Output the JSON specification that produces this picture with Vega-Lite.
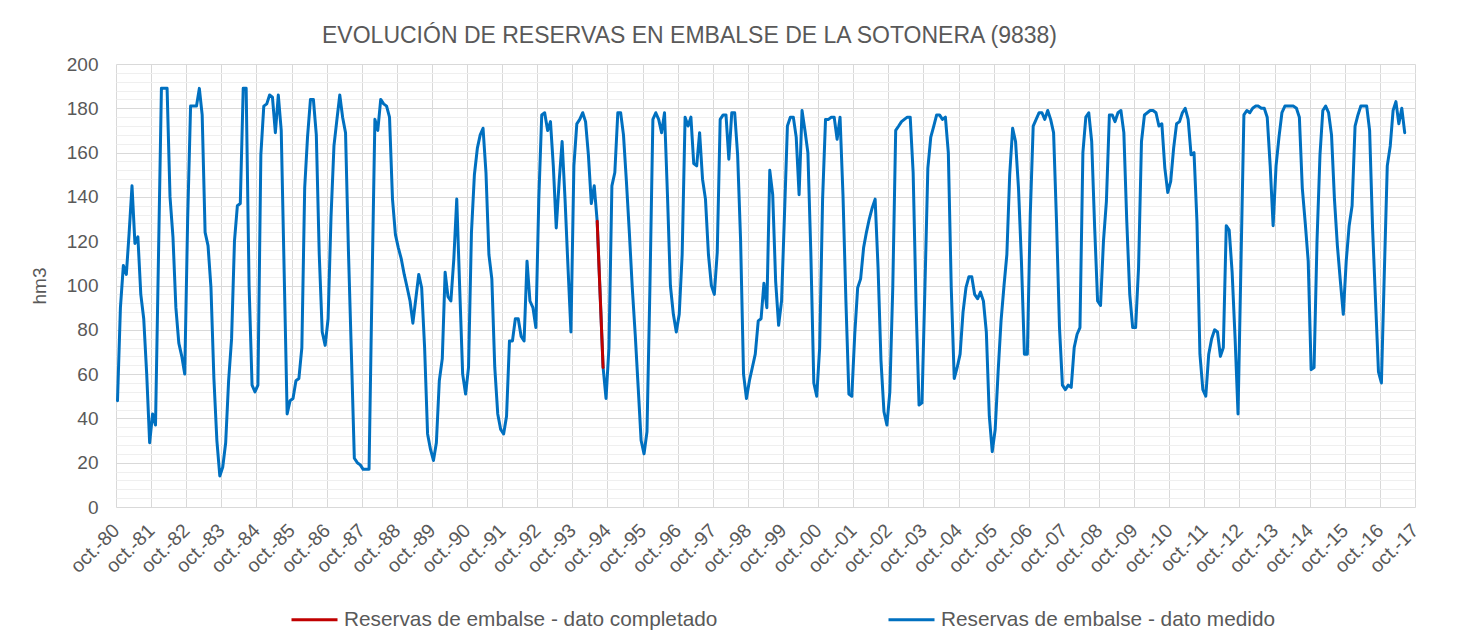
{
"$schema": "https://vega.github.io/schema/vega-lite/v6.json",
"width": 1299, "height": 443,
"autosize": {"type": "none"},
"padding": {"left": 116, "top": 64, "right": 45, "bottom": 134},
"background": "white",
"title": {"text": "EVOLUCIÓN DE RESERVAS EN EMBALSE DE LA SOTONERA (9838)", "fontSize": 23, "font": "Liberation Sans", "fontWeight": "normal", "color": "#595959", "anchor": "middle", "dx": -76, "offset": 7},
"data": {"values": [
{"fecha":"1980-10","hm3":48,"serie":"medido"},{"fecha":"1980-11","hm3":90,"serie":"medido"},{"fecha":"1980-12","hm3":109,"serie":"medido"},
{"fecha":"1981-01","hm3":105,"serie":"medido"},{"fecha":"1981-02","hm3":124,"serie":"medido"},{"fecha":"1981-03","hm3":145,"serie":"medido"},{"fecha":"1981-04","hm3":119,"serie":"medido"},{"fecha":"1981-05","hm3":122,"serie":"medido"},{"fecha":"1981-06","hm3":96,"serie":"medido"},{"fecha":"1981-07","hm3":85,"serie":"medido"},{"fecha":"1981-08","hm3":60,"serie":"medido"},{"fecha":"1981-09","hm3":29,"serie":"medido"},{"fecha":"1981-10","hm3":42,"serie":"medido"},{"fecha":"1981-11","hm3":37,"serie":"medido"},{"fecha":"1981-12","hm3":112,"serie":"medido"},
{"fecha":"1982-01","hm3":189,"serie":"medido"},{"fecha":"1982-02","hm3":189,"serie":"medido"},{"fecha":"1982-03","hm3":189,"serie":"medido"},{"fecha":"1982-04","hm3":140,"serie":"medido"},{"fecha":"1982-05","hm3":122,"serie":"medido"},{"fecha":"1982-06","hm3":90,"serie":"medido"},{"fecha":"1982-07","hm3":74,"serie":"medido"},{"fecha":"1982-08","hm3":68,"serie":"medido"},{"fecha":"1982-09","hm3":60,"serie":"medido"},{"fecha":"1982-10","hm3":130,"serie":"medido"},{"fecha":"1982-11","hm3":181,"serie":"medido"},{"fecha":"1982-12","hm3":181,"serie":"medido"},
{"fecha":"1983-01","hm3":181,"serie":"medido"},{"fecha":"1983-02","hm3":189,"serie":"medido"},{"fecha":"1983-03","hm3":177,"serie":"medido"},{"fecha":"1983-04","hm3":124,"serie":"medido"},{"fecha":"1983-05","hm3":118,"serie":"medido"},{"fecha":"1983-06","hm3":99,"serie":"medido"},{"fecha":"1983-07","hm3":58,"serie":"medido"},{"fecha":"1983-08","hm3":30,"serie":"medido"},{"fecha":"1983-09","hm3":14,"serie":"medido"},{"fecha":"1983-10","hm3":18,"serie":"medido"},{"fecha":"1983-11","hm3":29,"serie":"medido"},{"fecha":"1983-12","hm3":57,"serie":"medido"},
{"fecha":"1984-01","hm3":76,"serie":"medido"},{"fecha":"1984-02","hm3":120,"serie":"medido"},{"fecha":"1984-03","hm3":136,"serie":"medido"},{"fecha":"1984-04","hm3":137,"serie":"medido"},{"fecha":"1984-05","hm3":189,"serie":"medido"},{"fecha":"1984-06","hm3":189,"serie":"medido"},{"fecha":"1984-07","hm3":100,"serie":"medido"},{"fecha":"1984-08","hm3":55,"serie":"medido"},{"fecha":"1984-09","hm3":52,"serie":"medido"},{"fecha":"1984-10","hm3":55,"serie":"medido"},{"fecha":"1984-11","hm3":159,"serie":"medido"},{"fecha":"1984-12","hm3":181,"serie":"medido"},
{"fecha":"1985-01","hm3":182,"serie":"medido"},{"fecha":"1985-02","hm3":186,"serie":"medido"},{"fecha":"1985-03","hm3":185,"serie":"medido"},{"fecha":"1985-04","hm3":169,"serie":"medido"},{"fecha":"1985-05","hm3":186,"serie":"medido"},{"fecha":"1985-06","hm3":170,"serie":"medido"},{"fecha":"1985-07","hm3":106,"serie":"medido"},{"fecha":"1985-08","hm3":42,"serie":"medido"},{"fecha":"1985-09","hm3":48,"serie":"medido"},{"fecha":"1985-10","hm3":49,"serie":"medido"},{"fecha":"1985-11","hm3":57,"serie":"medido"},{"fecha":"1985-12","hm3":58,"serie":"medido"},
{"fecha":"1986-01","hm3":72,"serie":"medido"},{"fecha":"1986-02","hm3":144,"serie":"medido"},{"fecha":"1986-03","hm3":167,"serie":"medido"},{"fecha":"1986-04","hm3":184,"serie":"medido"},{"fecha":"1986-05","hm3":184,"serie":"medido"},{"fecha":"1986-06","hm3":168,"serie":"medido"},{"fecha":"1986-07","hm3":114,"serie":"medido"},{"fecha":"1986-08","hm3":79,"serie":"medido"},{"fecha":"1986-09","hm3":73,"serie":"medido"},{"fecha":"1986-10","hm3":85,"serie":"medido"},{"fecha":"1986-11","hm3":131,"serie":"medido"},{"fecha":"1986-12","hm3":163,"serie":"medido"},
{"fecha":"1987-01","hm3":175,"serie":"medido"},{"fecha":"1987-02","hm3":186,"serie":"medido"},{"fecha":"1987-03","hm3":176,"serie":"medido"},{"fecha":"1987-04","hm3":169,"serie":"medido"},{"fecha":"1987-05","hm3":115,"serie":"medido"},{"fecha":"1987-06","hm3":69,"serie":"medido"},{"fecha":"1987-07","hm3":22,"serie":"medido"},{"fecha":"1987-08","hm3":20,"serie":"medido"},{"fecha":"1987-09","hm3":19,"serie":"medido"},{"fecha":"1987-10","hm3":17,"serie":"medido"},{"fecha":"1987-11","hm3":17,"serie":"medido"},{"fecha":"1987-12","hm3":17,"serie":"medido"},
{"fecha":"1988-01","hm3":100,"serie":"medido"},{"fecha":"1988-02","hm3":175,"serie":"medido"},{"fecha":"1988-03","hm3":170,"serie":"medido"},{"fecha":"1988-04","hm3":184,"serie":"medido"},{"fecha":"1988-05","hm3":182,"serie":"medido"},{"fecha":"1988-06","hm3":181,"serie":"medido"},{"fecha":"1988-07","hm3":176,"serie":"medido"},{"fecha":"1988-08","hm3":139,"serie":"medido"},{"fecha":"1988-09","hm3":123,"serie":"medido"},{"fecha":"1988-10","hm3":117,"serie":"medido"},{"fecha":"1988-11","hm3":112,"serie":"medido"},{"fecha":"1988-12","hm3":105,"serie":"medido"},
{"fecha":"1989-01","hm3":99,"serie":"medido"},{"fecha":"1989-02","hm3":93,"serie":"medido"},{"fecha":"1989-03","hm3":83,"serie":"medido"},{"fecha":"1989-04","hm3":94,"serie":"medido"},{"fecha":"1989-05","hm3":105,"serie":"medido"},{"fecha":"1989-06","hm3":99,"serie":"medido"},{"fecha":"1989-07","hm3":72,"serie":"medido"},{"fecha":"1989-08","hm3":33,"serie":"medido"},{"fecha":"1989-09","hm3":26,"serie":"medido"},{"fecha":"1989-10","hm3":21,"serie":"medido"},{"fecha":"1989-11","hm3":29,"serie":"medido"},{"fecha":"1989-12","hm3":57,"serie":"medido"},
{"fecha":"1990-01","hm3":67,"serie":"medido"},{"fecha":"1990-02","hm3":106,"serie":"medido"},{"fecha":"1990-03","hm3":95,"serie":"medido"},{"fecha":"1990-04","hm3":93,"serie":"medido"},{"fecha":"1990-05","hm3":112,"serie":"medido"},{"fecha":"1990-06","hm3":139,"serie":"medido"},{"fecha":"1990-07","hm3":99,"serie":"medido"},{"fecha":"1990-08","hm3":60,"serie":"medido"},{"fecha":"1990-09","hm3":51,"serie":"medido"},{"fecha":"1990-10","hm3":63,"serie":"medido"},{"fecha":"1990-11","hm3":124,"serie":"medido"},{"fecha":"1990-12","hm3":150,"serie":"medido"},
{"fecha":"1991-01","hm3":162,"serie":"medido"},{"fecha":"1991-02","hm3":168,"serie":"medido"},{"fecha":"1991-03","hm3":171,"serie":"medido"},{"fecha":"1991-04","hm3":151,"serie":"medido"},{"fecha":"1991-05","hm3":114,"serie":"medido"},{"fecha":"1991-06","hm3":103,"serie":"medido"},{"fecha":"1991-07","hm3":63,"serie":"medido"},{"fecha":"1991-08","hm3":42,"serie":"medido"},{"fecha":"1991-09","hm3":35,"serie":"medido"},{"fecha":"1991-10","hm3":33,"serie":"medido"},{"fecha":"1991-11","hm3":41,"serie":"medido"},{"fecha":"1991-12","hm3":75,"serie":"medido"},
{"fecha":"1992-01","hm3":75,"serie":"medido"},{"fecha":"1992-02","hm3":85,"serie":"medido"},{"fecha":"1992-03","hm3":85,"serie":"medido"},{"fecha":"1992-04","hm3":77,"serie":"medido"},{"fecha":"1992-05","hm3":75,"serie":"medido"},{"fecha":"1992-06","hm3":111,"serie":"medido"},{"fecha":"1992-07","hm3":93,"serie":"medido"},{"fecha":"1992-08","hm3":90,"serie":"medido"},{"fecha":"1992-09","hm3":81,"serie":"medido"},{"fecha":"1992-10","hm3":139,"serie":"medido"},{"fecha":"1992-11","hm3":177,"serie":"medido"},{"fecha":"1992-12","hm3":178,"serie":"medido"},
{"fecha":"1993-01","hm3":170,"serie":"medido"},{"fecha":"1993-02","hm3":174,"serie":"medido"},{"fecha":"1993-03","hm3":154,"serie":"medido"},{"fecha":"1993-04","hm3":126,"serie":"medido"},{"fecha":"1993-05","hm3":147,"serie":"medido"},{"fecha":"1993-06","hm3":165,"serie":"medido"},{"fecha":"1993-07","hm3":139,"serie":"medido"},{"fecha":"1993-08","hm3":108,"serie":"medido"},{"fecha":"1993-09","hm3":79,"serie":"medido"},{"fecha":"1993-10","hm3":154,"serie":"medido"},{"fecha":"1993-11","hm3":173,"serie":"medido"},{"fecha":"1993-12","hm3":175,"serie":"medido"},
{"fecha":"1994-01","hm3":178,"serie":"medido"},{"fecha":"1994-02","hm3":174,"serie":"medido"},{"fecha":"1994-03","hm3":159,"serie":"medido"},{"fecha":"1994-04","hm3":137,"serie":"medido"},{"fecha":"1994-05","hm3":145,"serie":"medido"},{"fecha":"1994-06","hm3":129,"serie":"medido"},{"fecha":"1994-08","hm3":63,"serie":"medido"},{"fecha":"1994-09","hm3":49,"serie":"medido"},{"fecha":"1994-10","hm3":72,"serie":"medido"},{"fecha":"1994-11","hm3":145,"serie":"medido"},{"fecha":"1994-12","hm3":151,"serie":"medido"},
{"fecha":"1995-01","hm3":178,"serie":"medido"},{"fecha":"1995-02","hm3":178,"serie":"medido"},{"fecha":"1995-03","hm3":168,"serie":"medido"},{"fecha":"1995-04","hm3":147,"serie":"medido"},{"fecha":"1995-05","hm3":124,"serie":"medido"},{"fecha":"1995-06","hm3":99,"serie":"medido"},{"fecha":"1995-07","hm3":78,"serie":"medido"},{"fecha":"1995-08","hm3":54,"serie":"medido"},{"fecha":"1995-09","hm3":30,"serie":"medido"},{"fecha":"1995-10","hm3":24,"serie":"medido"},{"fecha":"1995-11","hm3":34,"serie":"medido"},{"fecha":"1995-12","hm3":99,"serie":"medido"},
{"fecha":"1996-01","hm3":175,"serie":"medido"},{"fecha":"1996-02","hm3":178,"serie":"medido"},{"fecha":"1996-03","hm3":175,"serie":"medido"},{"fecha":"1996-04","hm3":169,"serie":"medido"},{"fecha":"1996-05","hm3":178,"serie":"medido"},{"fecha":"1996-06","hm3":141,"serie":"medido"},{"fecha":"1996-07","hm3":100,"serie":"medido"},{"fecha":"1996-08","hm3":87,"serie":"medido"},{"fecha":"1996-09","hm3":79,"serie":"medido"},{"fecha":"1996-10","hm3":87,"serie":"medido"},{"fecha":"1996-11","hm3":114,"serie":"medido"},{"fecha":"1996-12","hm3":176,"serie":"medido"},
{"fecha":"1997-01","hm3":172,"serie":"medido"},{"fecha":"1997-02","hm3":176,"serie":"medido"},{"fecha":"1997-03","hm3":155,"serie":"medido"},{"fecha":"1997-04","hm3":154,"serie":"medido"},{"fecha":"1997-05","hm3":169,"serie":"medido"},{"fecha":"1997-06","hm3":148,"serie":"medido"},{"fecha":"1997-07","hm3":139,"serie":"medido"},{"fecha":"1997-08","hm3":114,"serie":"medido"},{"fecha":"1997-09","hm3":100,"serie":"medido"},{"fecha":"1997-10","hm3":96,"serie":"medido"},{"fecha":"1997-11","hm3":115,"serie":"medido"},{"fecha":"1997-12","hm3":175,"serie":"medido"},
{"fecha":"1998-01","hm3":177,"serie":"medido"},{"fecha":"1998-02","hm3":177,"serie":"medido"},{"fecha":"1998-03","hm3":157,"serie":"medido"},{"fecha":"1998-04","hm3":178,"serie":"medido"},{"fecha":"1998-05","hm3":178,"serie":"medido"},{"fecha":"1998-06","hm3":159,"serie":"medido"},{"fecha":"1998-07","hm3":121,"serie":"medido"},{"fecha":"1998-08","hm3":60,"serie":"medido"},{"fecha":"1998-09","hm3":49,"serie":"medido"},{"fecha":"1998-10","hm3":57,"serie":"medido"},{"fecha":"1998-11","hm3":63,"serie":"medido"},{"fecha":"1998-12","hm3":69,"serie":"medido"},
{"fecha":"1999-01","hm3":84,"serie":"medido"},{"fecha":"1999-02","hm3":85,"serie":"medido"},{"fecha":"1999-03","hm3":101,"serie":"medido"},{"fecha":"1999-04","hm3":90,"serie":"medido"},{"fecha":"1999-05","hm3":152,"serie":"medido"},{"fecha":"1999-06","hm3":141,"serie":"medido"},{"fecha":"1999-07","hm3":102,"serie":"medido"},{"fecha":"1999-08","hm3":82,"serie":"medido"},{"fecha":"1999-09","hm3":93,"serie":"medido"},{"fecha":"1999-10","hm3":132,"serie":"medido"},{"fecha":"1999-11","hm3":172,"serie":"medido"},{"fecha":"1999-12","hm3":176,"serie":"medido"},
{"fecha":"2000-01","hm3":176,"serie":"medido"},{"fecha":"2000-02","hm3":167,"serie":"medido"},{"fecha":"2000-03","hm3":141,"serie":"medido"},{"fecha":"2000-04","hm3":179,"serie":"medido"},{"fecha":"2000-05","hm3":170,"serie":"medido"},{"fecha":"2000-06","hm3":160,"serie":"medido"},{"fecha":"2000-07","hm3":115,"serie":"medido"},{"fecha":"2000-08","hm3":56,"serie":"medido"},{"fecha":"2000-09","hm3":50,"serie":"medido"},{"fecha":"2000-10","hm3":72,"serie":"medido"},{"fecha":"2000-11","hm3":139,"serie":"medido"},{"fecha":"2000-12","hm3":175,"serie":"medido"},
{"fecha":"2001-01","hm3":175,"serie":"medido"},{"fecha":"2001-02","hm3":176,"serie":"medido"},{"fecha":"2001-03","hm3":176,"serie":"medido"},{"fecha":"2001-04","hm3":166,"serie":"medido"},{"fecha":"2001-05","hm3":176,"serie":"medido"},{"fecha":"2001-06","hm3":141,"serie":"medido"},{"fecha":"2001-07","hm3":93,"serie":"medido"},{"fecha":"2001-08","hm3":51,"serie":"medido"},{"fecha":"2001-09","hm3":50,"serie":"medido"},{"fecha":"2001-10","hm3":78,"serie":"medido"},{"fecha":"2001-11","hm3":99,"serie":"medido"},{"fecha":"2001-12","hm3":103,"serie":"medido"},
{"fecha":"2002-01","hm3":117,"serie":"medido"},{"fecha":"2002-02","hm3":124,"serie":"medido"},{"fecha":"2002-03","hm3":130,"serie":"medido"},{"fecha":"2002-04","hm3":135,"serie":"medido"},{"fecha":"2002-05","hm3":139,"serie":"medido"},{"fecha":"2002-06","hm3":108,"serie":"medido"},{"fecha":"2002-07","hm3":66,"serie":"medido"},{"fecha":"2002-08","hm3":43,"serie":"medido"},{"fecha":"2002-09","hm3":37,"serie":"medido"},{"fecha":"2002-10","hm3":52,"serie":"medido"},{"fecha":"2002-11","hm3":99,"serie":"medido"},{"fecha":"2002-12","hm3":170,"serie":"medido"},
{"fecha":"2003-01","hm3":172,"serie":"medido"},{"fecha":"2003-02","hm3":174,"serie":"medido"},{"fecha":"2003-03","hm3":175,"serie":"medido"},{"fecha":"2003-04","hm3":176,"serie":"medido"},{"fecha":"2003-05","hm3":176,"serie":"medido"},{"fecha":"2003-06","hm3":151,"serie":"medido"},{"fecha":"2003-07","hm3":91,"serie":"medido"},{"fecha":"2003-08","hm3":46,"serie":"medido"},{"fecha":"2003-09","hm3":47,"serie":"medido"},{"fecha":"2003-10","hm3":99,"serie":"medido"},{"fecha":"2003-11","hm3":153,"serie":"medido"},{"fecha":"2003-12","hm3":167,"serie":"medido"},
{"fecha":"2004-01","hm3":172,"serie":"medido"},{"fecha":"2004-02","hm3":177,"serie":"medido"},{"fecha":"2004-03","hm3":177,"serie":"medido"},{"fecha":"2004-04","hm3":175,"serie":"medido"},{"fecha":"2004-05","hm3":176,"serie":"medido"},{"fecha":"2004-06","hm3":160,"serie":"medido"},{"fecha":"2004-07","hm3":99,"serie":"medido"},{"fecha":"2004-08","hm3":58,"serie":"medido"},{"fecha":"2004-09","hm3":63,"serie":"medido"},{"fecha":"2004-10","hm3":69,"serie":"medido"},{"fecha":"2004-11","hm3":88,"serie":"medido"},{"fecha":"2004-12","hm3":99,"serie":"medido"},
{"fecha":"2005-01","hm3":104,"serie":"medido"},{"fecha":"2005-02","hm3":104,"serie":"medido"},{"fecha":"2005-03","hm3":96,"serie":"medido"},{"fecha":"2005-04","hm3":94,"serie":"medido"},{"fecha":"2005-05","hm3":97,"serie":"medido"},{"fecha":"2005-06","hm3":93,"serie":"medido"},{"fecha":"2005-07","hm3":79,"serie":"medido"},{"fecha":"2005-08","hm3":41,"serie":"medido"},{"fecha":"2005-09","hm3":25,"serie":"medido"},{"fecha":"2005-10","hm3":35,"serie":"medido"},{"fecha":"2005-11","hm3":61,"serie":"medido"},{"fecha":"2005-12","hm3":84,"serie":"medido"},
{"fecha":"2006-01","hm3":100,"serie":"medido"},{"fecha":"2006-02","hm3":114,"serie":"medido"},{"fecha":"2006-03","hm3":150,"serie":"medido"},{"fecha":"2006-04","hm3":171,"serie":"medido"},{"fecha":"2006-05","hm3":165,"serie":"medido"},{"fecha":"2006-06","hm3":144,"serie":"medido"},{"fecha":"2006-07","hm3":111,"serie":"medido"},{"fecha":"2006-08","hm3":69,"serie":"medido"},{"fecha":"2006-09","hm3":69,"serie":"medido"},{"fecha":"2006-10","hm3":132,"serie":"medido"},{"fecha":"2006-11","hm3":172,"serie":"medido"},{"fecha":"2006-12","hm3":175,"serie":"medido"},
{"fecha":"2007-01","hm3":178,"serie":"medido"},{"fecha":"2007-02","hm3":178,"serie":"medido"},{"fecha":"2007-03","hm3":175,"serie":"medido"},{"fecha":"2007-04","hm3":179,"serie":"medido"},{"fecha":"2007-05","hm3":175,"serie":"medido"},{"fecha":"2007-06","hm3":169,"serie":"medido"},{"fecha":"2007-07","hm3":129,"serie":"medido"},{"fecha":"2007-08","hm3":81,"serie":"medido"},{"fecha":"2007-09","hm3":55,"serie":"medido"},{"fecha":"2007-10","hm3":53,"serie":"medido"},{"fecha":"2007-11","hm3":55,"serie":"medido"},{"fecha":"2007-12","hm3":54,"serie":"medido"},
{"fecha":"2008-01","hm3":72,"serie":"medido"},{"fecha":"2008-02","hm3":78,"serie":"medido"},{"fecha":"2008-03","hm3":81,"serie":"medido"},{"fecha":"2008-04","hm3":160,"serie":"medido"},{"fecha":"2008-05","hm3":176,"serie":"medido"},{"fecha":"2008-06","hm3":178,"serie":"medido"},{"fecha":"2008-07","hm3":165,"serie":"medido"},{"fecha":"2008-08","hm3":126,"serie":"medido"},{"fecha":"2008-09","hm3":93,"serie":"medido"},{"fecha":"2008-10","hm3":91,"serie":"medido"},{"fecha":"2008-11","hm3":120,"serie":"medido"},{"fecha":"2008-12","hm3":138,"serie":"medido"},
{"fecha":"2009-01","hm3":177,"serie":"medido"},{"fecha":"2009-02","hm3":177,"serie":"medido"},{"fecha":"2009-03","hm3":174,"serie":"medido"},{"fecha":"2009-04","hm3":178,"serie":"medido"},{"fecha":"2009-05","hm3":179,"serie":"medido"},{"fecha":"2009-06","hm3":169,"serie":"medido"},{"fecha":"2009-07","hm3":129,"serie":"medido"},{"fecha":"2009-08","hm3":96,"serie":"medido"},{"fecha":"2009-09","hm3":81,"serie":"medido"},{"fecha":"2009-10","hm3":81,"serie":"medido"},{"fecha":"2009-11","hm3":108,"serie":"medido"},{"fecha":"2009-12","hm3":165,"serie":"medido"},
{"fecha":"2010-01","hm3":177,"serie":"medido"},{"fecha":"2010-02","hm3":178,"serie":"medido"},{"fecha":"2010-03","hm3":179,"serie":"medido"},{"fecha":"2010-04","hm3":179,"serie":"medido"},{"fecha":"2010-05","hm3":178,"serie":"medido"},{"fecha":"2010-06","hm3":172,"serie":"medido"},{"fecha":"2010-07","hm3":173,"serie":"medido"},{"fecha":"2010-08","hm3":153,"serie":"medido"},{"fecha":"2010-09","hm3":142,"serie":"medido"},{"fecha":"2010-10","hm3":147,"serie":"medido"},{"fecha":"2010-11","hm3":162,"serie":"medido"},{"fecha":"2010-12","hm3":173,"serie":"medido"},
{"fecha":"2011-01","hm3":174,"serie":"medido"},{"fecha":"2011-02","hm3":178,"serie":"medido"},{"fecha":"2011-03","hm3":180,"serie":"medido"},{"fecha":"2011-04","hm3":175,"serie":"medido"},{"fecha":"2011-05","hm3":159,"serie":"medido"},{"fecha":"2011-06","hm3":160,"serie":"medido"},{"fecha":"2011-07","hm3":129,"serie":"medido"},{"fecha":"2011-08","hm3":69,"serie":"medido"},{"fecha":"2011-09","hm3":53,"serie":"medido"},{"fecha":"2011-10","hm3":50,"serie":"medido"},{"fecha":"2011-11","hm3":69,"serie":"medido"},{"fecha":"2011-12","hm3":76,"serie":"medido"},
{"fecha":"2012-01","hm3":80,"serie":"medido"},{"fecha":"2012-02","hm3":79,"serie":"medido"},{"fecha":"2012-03","hm3":68,"serie":"medido"},{"fecha":"2012-04","hm3":72,"serie":"medido"},{"fecha":"2012-05","hm3":127,"serie":"medido"},{"fecha":"2012-06","hm3":125,"serie":"medido"},{"fecha":"2012-07","hm3":106,"serie":"medido"},{"fecha":"2012-08","hm3":76,"serie":"medido"},{"fecha":"2012-09","hm3":42,"serie":"medido"},{"fecha":"2012-10","hm3":110,"serie":"medido"},{"fecha":"2012-11","hm3":177,"serie":"medido"},{"fecha":"2012-12","hm3":179,"serie":"medido"},
{"fecha":"2013-01","hm3":178,"serie":"medido"},{"fecha":"2013-02","hm3":180,"serie":"medido"},{"fecha":"2013-03","hm3":181,"serie":"medido"},{"fecha":"2013-04","hm3":181,"serie":"medido"},{"fecha":"2013-05","hm3":180,"serie":"medido"},{"fecha":"2013-06","hm3":180,"serie":"medido"},{"fecha":"2013-07","hm3":176,"serie":"medido"},{"fecha":"2013-08","hm3":154,"serie":"medido"},{"fecha":"2013-09","hm3":127,"serie":"medido"},{"fecha":"2013-10","hm3":154,"serie":"medido"},{"fecha":"2013-11","hm3":167,"serie":"medido"},{"fecha":"2013-12","hm3":178,"serie":"medido"},
{"fecha":"2014-01","hm3":181,"serie":"medido"},{"fecha":"2014-02","hm3":181,"serie":"medido"},{"fecha":"2014-03","hm3":181,"serie":"medido"},{"fecha":"2014-04","hm3":181,"serie":"medido"},{"fecha":"2014-05","hm3":180,"serie":"medido"},{"fecha":"2014-06","hm3":176,"serie":"medido"},{"fecha":"2014-07","hm3":144,"serie":"medido"},{"fecha":"2014-08","hm3":128,"serie":"medido"},{"fecha":"2014-09","hm3":111,"serie":"medido"},{"fecha":"2014-10","hm3":62,"serie":"medido"},{"fecha":"2014-11","hm3":63,"serie":"medido"},{"fecha":"2014-12","hm3":120,"serie":"medido"},
{"fecha":"2015-01","hm3":159,"serie":"medido"},{"fecha":"2015-02","hm3":179,"serie":"medido"},{"fecha":"2015-03","hm3":181,"serie":"medido"},{"fecha":"2015-04","hm3":178,"serie":"medido"},{"fecha":"2015-05","hm3":168,"serie":"medido"},{"fecha":"2015-06","hm3":139,"serie":"medido"},{"fecha":"2015-07","hm3":118,"serie":"medido"},{"fecha":"2015-08","hm3":102,"serie":"medido"},{"fecha":"2015-09","hm3":87,"serie":"medido"},{"fecha":"2015-10","hm3":111,"serie":"medido"},{"fecha":"2015-11","hm3":127,"serie":"medido"},{"fecha":"2015-12","hm3":136,"serie":"medido"},
{"fecha":"2016-01","hm3":172,"serie":"medido"},{"fecha":"2016-02","hm3":177,"serie":"medido"},{"fecha":"2016-03","hm3":181,"serie":"medido"},{"fecha":"2016-04","hm3":181,"serie":"medido"},{"fecha":"2016-05","hm3":181,"serie":"medido"},{"fecha":"2016-06","hm3":170,"serie":"medido"},{"fecha":"2016-07","hm3":126,"serie":"medido"},{"fecha":"2016-08","hm3":93,"serie":"medido"},{"fecha":"2016-09","hm3":61,"serie":"medido"},{"fecha":"2016-10","hm3":56,"serie":"medido"},{"fecha":"2016-11","hm3":106,"serie":"medido"},{"fecha":"2016-12","hm3":154,"serie":"medido"},
{"fecha":"2017-01","hm3":163,"serie":"medido"},{"fecha":"2017-02","hm3":179,"serie":"medido"},{"fecha":"2017-03","hm3":183,"serie":"medido"},{"fecha":"2017-04","hm3":173,"serie":"medido"},{"fecha":"2017-05","hm3":180,"serie":"medido"},{"fecha":"2017-06","hm3":169,"serie":"medido"},
{"fecha":"1994-06","hm3":129,"serie":"completado"},{"fecha":"1994-07","hm3":96,"serie":"completado"},{"fecha":"1994-08","hm3":63,"serie":"completado"}
]},
"encoding": {
  "x": {"field": "fecha", "type": "temporal", "timeUnit": "utcyearmonth", "bandPosition": 0.5,
    "scale": {"type": "utc", "nice": false, "domain": [{"year": 1980, "month": 10, "date": 1, "utc": true}, {"year": 2017, "month": 10, "date": 1, "utc": true}]},
    "axis": {"title": null, "values": [
      {"year":1980,"month":10,"date":1,"utc":true},{"year":1981,"month":10,"date":1,"utc":true},{"year":1982,"month":10,"date":1,"utc":true},{"year":1983,"month":10,"date":1,"utc":true},{"year":1984,"month":10,"date":1,"utc":true},{"year":1985,"month":10,"date":1,"utc":true},{"year":1986,"month":10,"date":1,"utc":true},{"year":1987,"month":10,"date":1,"utc":true},{"year":1988,"month":10,"date":1,"utc":true},{"year":1989,"month":10,"date":1,"utc":true},
      {"year":1990,"month":10,"date":1,"utc":true},{"year":1991,"month":10,"date":1,"utc":true},{"year":1992,"month":10,"date":1,"utc":true},{"year":1993,"month":10,"date":1,"utc":true},{"year":1994,"month":10,"date":1,"utc":true},{"year":1995,"month":10,"date":1,"utc":true},{"year":1996,"month":10,"date":1,"utc":true},{"year":1997,"month":10,"date":1,"utc":true},{"year":1998,"month":10,"date":1,"utc":true},{"year":1999,"month":10,"date":1,"utc":true},
      {"year":2000,"month":10,"date":1,"utc":true},{"year":2001,"month":10,"date":1,"utc":true},{"year":2002,"month":10,"date":1,"utc":true},{"year":2003,"month":10,"date":1,"utc":true},{"year":2004,"month":10,"date":1,"utc":true},{"year":2005,"month":10,"date":1,"utc":true},{"year":2006,"month":10,"date":1,"utc":true},{"year":2007,"month":10,"date":1,"utc":true},{"year":2008,"month":10,"date":1,"utc":true},{"year":2009,"month":10,"date":1,"utc":true},
      {"year":2010,"month":10,"date":1,"utc":true},{"year":2011,"month":10,"date":1,"utc":true},{"year":2012,"month":10,"date":1,"utc":true},{"year":2013,"month":10,"date":1,"utc":true},{"year":2014,"month":10,"date":1,"utc":true},{"year":2015,"month":10,"date":1,"utc":true},{"year":2016,"month":10,"date":1,"utc":true},{"year":2017,"month":10,"date":1,"utc":true}],
      "labelExpr": "'oct.-' + utcFormat(datum.value, '%y')",
      "labelAngle": -45, "labelAlign": "right", "labelBaseline": "middle", "labelPadding": 20,
      "labelFontSize": 19.5, "labelFont": "Liberation Sans", "labelColor": "#595959",
      "labelOverlap": false, "labelBound": false, "labelFlush": false,
      "ticks": false, "domain": false, "grid": true, "gridColor": "#d9d9d9", "gridWidth": 1}},
  "y": {"field": "hm3", "type": "quantitative", "scale": {"domain": [0, 200], "nice": false},
    "axis": {"title": "hm3", "values": [0,4,8,12,16,20,24,28,32,36,40,44,48,52,56,60,64,68,72,76,80,84,88,92,96,100,104,108,112,116,120,124,128,132,136,140,144,148,152,156,160,164,168,172,176,180,184,188,192,196,200],
      "labelExpr": "datum.value % 20 === 0 ? datum.label : ''",
      "gridColor": {"condition": {"test": "datum.value % 20 === 0", "value": "#d9d9d9"}, "value": "#efefef"},
      "gridWidth": 1, "ticks": false, "domain": false, "labelOverlap": false,
      "labelPadding": 18, "labelFontSize": 19, "labelFont": "Liberation Sans", "labelColor": "#595959",
      "titleFontSize": 19, "titleFont": "Liberation Sans", "titleFontWeight": "normal", "titleColor": "#595959", "titlePadding": 17}},
  "color": {"field": "serie", "type": "nominal",
    "scale": {"domain": ["completado", "medido"], "range": ["#C00000", "#0070C0"]},
    "legend": {"title": null, "orient": "none", "legendX": 174, "legendY": 531, "direction": "horizontal",
      "labelExpr": "'Reservas de embalse - dato ' + datum.label",
      "symbolType": "stroke", "symbolSize": 2116, "symbolStrokeWidth": 3,
      "labelFontSize": 20.8, "labelFont": "Liberation Sans", "labelColor": "#595959", "labelLimit": 700, "labelOffset": 5, "columnPadding": 164}}
},
"layer": [
  {"transform": [{"filter": "datum.serie === 'medido'"}], "mark": {"type": "line", "strokeWidth": 3, "strokeJoin": "round", "strokeCap": "round"}},
  {"transform": [{"filter": "datum.serie === 'completado'"}], "mark": {"type": "line", "strokeWidth": 3, "strokeJoin": "round", "strokeCap": "round"}}
],
"config": {"view": {"stroke": null}}
}
